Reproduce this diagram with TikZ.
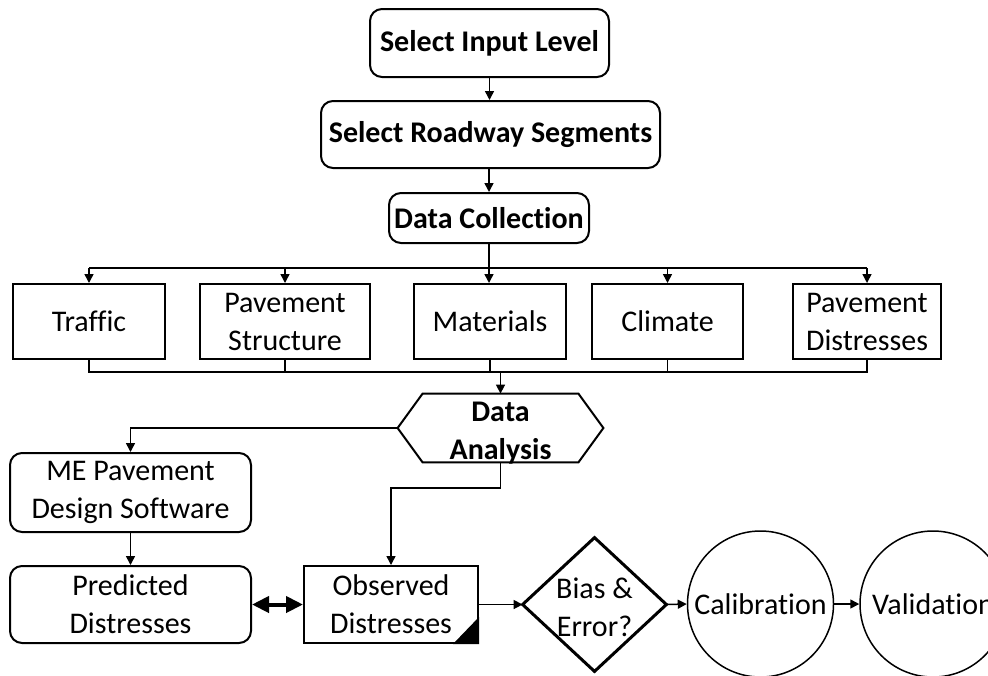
\documentclass[tikz,border=0pt]{standalone}
\usepackage{fontspec}
\setmainfont{Carlito}[Ligatures=NoCommon]
\usetikzlibrary{arrows.meta,shapes.geometric}
\begin{document}
\begin{tikzpicture}[x=0.5pt,y=-0.5pt,
 base/.style={draw,line width=1pt,inner sep=0pt,align=center,font=\fontsize{15}{19}\selectfont},
 rbox/.style={base,rectangle,rounded corners=6pt},
 sbox/.style={base,rectangle},
 bold/.style={font=\fontsize{15}{19}\selectfont\bfseries},
 conn/.style={line width=0.75pt,-{Triangle[length=4.5pt,width=4.5pt]}},
 plain/.style={line width=0.75pt}]
\useasboundingbox (0,0) rectangle (988,675);
\clip (0,0) rectangle (988,675);

% top chain
\node[rbox,bold,minimum width=119.5pt,minimum height=34pt] (sil) at (489.5,43) {Select Input Level};
\node[rbox,bold,minimum width=169.5pt,minimum height=33.5pt] (srs) at (490.5,134.5) {Select Roadway Segments};
\node[rbox,bold,minimum width=100pt,minimum height=25pt] (dc) at (489,218) {Data Collection};

\draw[conn] (sil.south) -- (sil.south |- srs.north);
\draw[conn] (srs.south -| dc.north) -- (dc.north);

% data boxes
\node[sbox,minimum width=76pt,minimum height=37.5pt] (tr) at (89,321.5) {Traffic};
\node[sbox,minimum width=85pt,minimum height=37.5pt] (ps) at (285,321.5) {Pavement\\Structure};
\node[sbox,minimum width=76pt,minimum height=37.5pt] (mat) at (490,321.5) {Materials};
\node[sbox,minimum width=75.5pt,minimum height=37.5pt] (cl) at (667.5,321.5) {Climate};
\node[sbox,minimum width=74pt,minimum height=37.5pt] (pd) at (867,321.5) {Pavement\\Distresses};

\coordinate (bt) at (0,268);
\coordinate (bb) at (0,372);
\draw[plain] (tr.north |- bt) -- (pd.north |- bt);
\draw[conn] (dc.south) -- (dc.south |- mat.north);
\foreach \n in {tr,ps,cl,pd} \draw[conn] (\n.north |- bt) -- (\n.north);

% data analysis hexagon
\node[inner sep=0pt,minimum width=102.5pt,minimum height=34pt] (da) at (500.5,428) {};
\node[inner sep=0pt,align=center,bold] (dat) at ([yshift=-2.5pt]da.center) {Data\\Analysis};
\draw[line width=1pt] (da.west) -- ([xshift=12.5pt]da.north west) -- ([xshift=-12.5pt]da.north east)
  -- (da.east) -- ([xshift=-12.5pt]da.south east) -- ([xshift=12.5pt]da.south west) -- cycle;

\draw[plain] (tr.south) -- (tr.south |- bb) -- (pd.south |- bb) -- (pd.south);
\foreach \n in {ps,mat,cl} \draw[plain] (\n.south) -- (\n.south |- bb);
\draw[conn] (da.north |- bb) -- (da.north);

% lower left
\node[rbox,minimum width=120.5pt,minimum height=39.5pt] (me) at (130.5,492.5) {ME Pavement\\Design Software};
\node[rbox,minimum width=120.5pt,minimum height=38.5pt] (pr) at (130.5,604.5) {Predicted\\Distresses};
\node[sbox,minimum width=87pt,minimum height=38.5pt] (ob) at (391,604.5) {Observed\\Distresses};
\fill (ob.south east) -- ([yshift=13.5pt]ob.south east) -- ([xshift=-13pt]ob.south east) -- cycle;

\draw[conn] (da.west) -| (me.north);
\draw[conn] (me.south) -- (pr.north);
\coordinate (k) at (0,488);
\draw[conn] (da.south) -- (da.south |- k) -| (ob.north);
\draw[line width=2pt,{Triangle[length=8.5pt,width=8pt]}-{Triangle[length=8.5pt,width=8pt]}] (pr.east) -- (ob.west);

% diamond and circles
\node[inner sep=0pt,minimum width=71.5pt,minimum height=66.5pt] (bi) at (594.5,604.5) {};
\node[inner sep=0pt,align=center,font=\fontsize{15}{19}\selectfont] (bit) at ([yshift=-1.5pt]bi.center) {Bias \&\\Error?};
\draw[line width=1.5pt] (bi.west) -- (bi.north) -- (bi.east) -- (bi.south) -- cycle;
\node[circle,draw,line width=0.75pt,inner sep=0pt,minimum size=73pt,font=\fontsize{15}{19}\selectfont] (ca) at (760.5,604) {Calibration};
\node[circle,draw,line width=0.75pt,inner sep=0pt,minimum size=73pt,font=\fontsize{15}{19}\selectfont] (va) at (933,604) {Validation};

\draw[conn] (ob.east) -- (bi.west);
\draw[conn] (bi.east) -- (ca.west);
\draw[conn] (ca.east) -- (va.west);
\end{tikzpicture}
\end{document}
